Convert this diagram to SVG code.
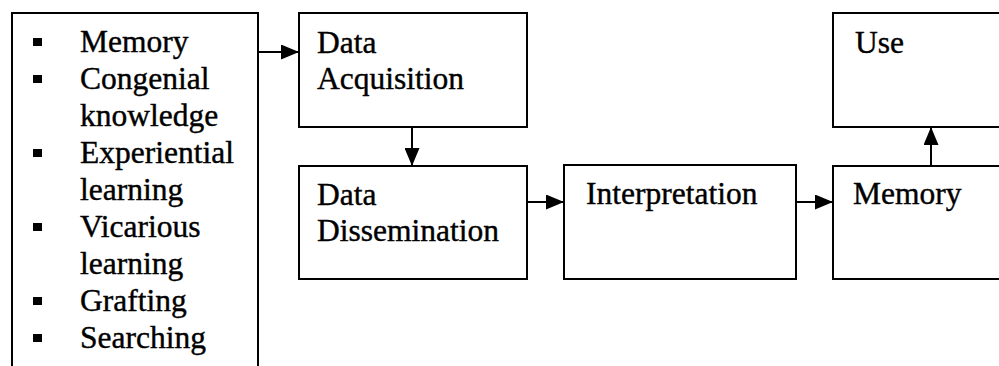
<svg xmlns="http://www.w3.org/2000/svg" width="999" height="366" viewBox="0 0 999 366">
<defs>
<style>
.box{fill:#fff;stroke:#000;stroke-width:2}
.t{font-family:"Liberation Serif","Times New Roman",serif;font-size:31.5px;fill:#000;stroke:#000;stroke-width:0.4}
.c{stroke:#000;stroke-width:2;fill:none}
.b{fill:#000}
</style>
<marker id="ah" viewBox="0 0 18 15" refX="18" refY="7.5" markerWidth="18" markerHeight="15" markerUnits="userSpaceOnUse" orient="auto">
<path d="M0,0 L18,7.5 L0,15 Z" fill="#000"/>
</marker>
</defs>
<g id="sources">
<path class="c" d="M12,372 V13 H258 V372"/>
<rect class="b" x="33" y="38" width="9" height="8"/>
<text class="t" x="80" y="52">Memory</text>
<rect class="b" x="33" y="75" width="9" height="8"/>
<text class="t" x="80" y="89">Congenial</text>
<text class="t" x="80" y="126">knowledge</text>
<rect class="b" x="33" y="149" width="9" height="8"/>
<text class="t" x="80" y="163">Experiential</text>
<text class="t" x="80" y="200">learning</text>
<rect class="b" x="33" y="223" width="9" height="8"/>
<text class="t" x="80" y="237">Vicarious</text>
<text class="t" x="80" y="274">learning</text>
<rect class="b" x="33" y="297" width="9" height="8"/>
<text class="t" x="80" y="311">Grafting</text>
<rect class="b" x="33" y="334" width="9" height="8"/>
<text class="t" x="80" y="348">Searching</text>
</g>
<g id="acquisition">
<rect class="box" x="299" y="13" width="228" height="114"/>
<text class="t" x="317" y="53">Data</text>
<text class="t" x="317" y="89">Acquisition</text>
</g>
<g id="dissemination">
<rect class="box" x="299" y="166" width="228" height="113"/>
<text class="t" x="317" y="205">Data</text>
<text class="t" x="317" y="241">Dissemination</text>
</g>
<g id="interpretation">
<rect class="box" x="564" y="165" width="232" height="114"/>
<text class="t" x="586" y="204">Interpretation</text>
</g>
<g id="memory">
<rect class="box" x="833" y="166" width="180" height="113"/>
<text class="t" x="853" y="204">Memory</text>
</g>
<g id="use">
<rect class="box" x="833" y="13" width="180" height="114"/>
<text class="t" x="855" y="53">Use</text>
</g>
<g id="connectors">
<line class="c" x1="258" y1="52" x2="299" y2="52" marker-end="url(#ah)"/>
<line class="c" x1="412" y1="127" x2="412" y2="166" marker-end="url(#ah)"/>
<line class="c" x1="527" y1="202" x2="564" y2="202" marker-end="url(#ah)"/>
<line class="c" x1="796" y1="202" x2="833" y2="202" marker-end="url(#ah)"/>
<line class="c" x1="931" y1="166" x2="931" y2="127" marker-end="url(#ah)"/>
</g>
</svg>
